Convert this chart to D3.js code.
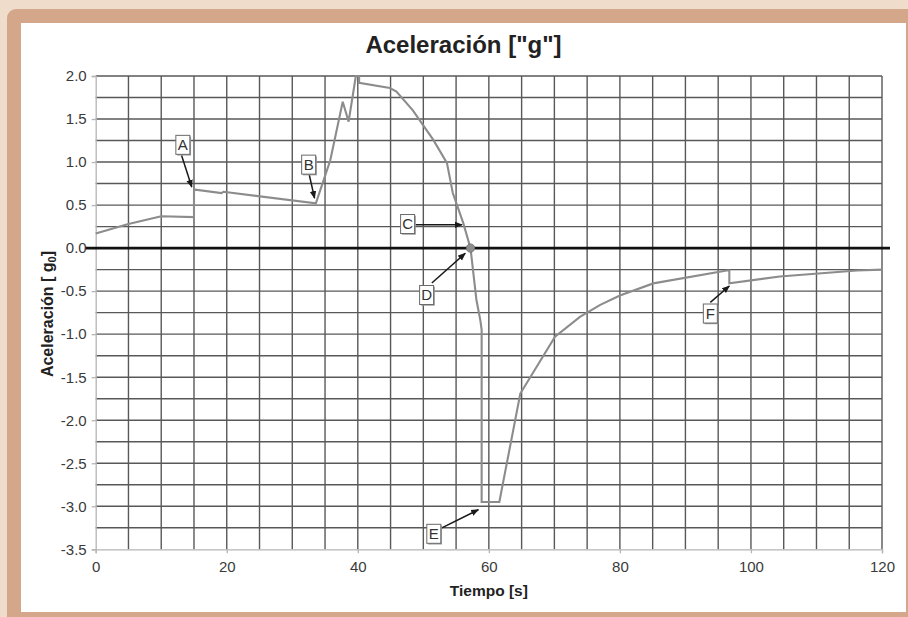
<!DOCTYPE html>
<html>
<head>
<meta charset="utf-8">
<script src="https://cdn.jsdelivr.net/npm/d3@7"></script>
<style>
  html, body { margin: 0; padding: 0; background: #efdccb; }
  svg { display: block; font-family: "Liberation Sans", Arial, Helvetica, sans-serif; }
</style>
</head>
<body>
<svg id="chart" width="908" height="617"></svg>
<script>
// Time axis (s) and acceleration (g0) of the recorded flight profile
const tiempo = [0, 5, 10, 15.0, 15.0, 15.2, 19.2, 19.5, 33.6, 35.8, 37.7, 38.6, 39.7, 40.2, 40.2,
  44.9, 45.9, 48.4, 51.5, 53.6, 54.5, 56.1, 57.2, 58.1, 58.7, 58.9, 58.9, 61.6, 64.8, 70.1,
  73.9, 77.0, 80.0, 85.1, 96.3, 96.7, 96.7, 104.4, 116.2, 120];
const aceleracion = [0.17, 0.28, 0.37, 0.36, 0.67, 0.68, 0.64, 0.655, 0.52, 1.02, 1.70, 1.47, 2.0, 2.0, 1.92,
  1.86, 1.82, 1.60, 1.26, 0.99, 0.64, 0.29, 0.0, -0.60, -0.84, -0.95, -2.95, -2.95, -1.69, -1.03,
  -0.80, -0.66, -0.55, -0.41, -0.26, -0.26, -0.41, -0.33, -0.26, -0.25];

// Axis ticks
const xTicks = [0, 20, 40, 60, 80, 100, 120];
const yTicks = [2.0, 1.5, 1.0, 0.5, 0.0, -0.5, -1.0, -1.5, -2.0, -2.5, -3.0, -3.5];

// Event markers: letter, box centre, arrow start, arrow tip (data units)
const etiquetas = ["A", "B", "C", "D", "E", "F"];
const cajaX = [13.3, 32.5, 47.6, 50.5, 51.6, 93.8];
const cajaY = [1.20, 0.97, 0.28, -0.545, -3.32, -0.76];
const flechaX0 = [13.1, 32.6, 48.8, 51.3, 52.6, 93.8];
const flechaY0 = [1.08, 0.85, 0.27, -0.405, -3.26, -0.63];
const flechaX1 = [14.66, 33.4, 55.9, 56.4, 58.4, 96.7];
const flechaY1 = [0.71, 0.58, 0.27, -0.06, -3.04, -0.44];

// Point where the acceleration crosses zero
const cruceX = [57.2];
const cruceY = [0.0];

const svg = d3.select("#chart");
const W = 908, H = 617;

// Frame
svg.append("rect").attr("x", 0).attr("y", 0).attr("width", W).attr("height", H).attr("fill", "#efdccb");
svg.append("rect").attr("x", 7).attr("y", 9).attr("width", W + 20).attr("height", H + 20)
  .attr("rx", 9).attr("fill", "#d5a78a");
svg.append("rect").attr("x", 21).attr("y", 23).attr("width", 885).attr("height", 589).attr("fill", "#ffffff");

const x = d3.scaleLinear().domain([0, 120]).range([95.7, 882]);
const y = d3.scaleLinear().domain([-3.5, 2]).range([549.3, 76]);

const g = svg.append("g");

// Grid: every 5 s and every 0.25 g
const gridX = d3.range(5, 121, 5);
const gridY = d3.range(-3.25, 2.01, 0.25).filter(v => Math.abs(v) > 1e-9);
g.append("g").selectAll("line").data(gridX).join("line")
  .attr("x1", d => x(d)).attr("x2", d => x(d))
  .attr("y1", y(2)).attr("y2", y(-3.5))
  .attr("stroke", "#585858").attr("stroke-width", 1.4);
g.append("g").selectAll("line").data(gridY).join("line")
  .attr("x1", x(0)).attr("x2", x(120))
  .attr("y1", d => y(d)).attr("y2", d => y(d))
  .attr("stroke", "#585858").attr("stroke-width", 1.4);

// Axes (light lines with short outward ticks); plain hyphen for negatives
const fmtY = d3.format(".1f");
const axisX = d3.axisBottom(x).tickValues(xTicks).tickSize(4).tickPadding(8).tickFormat(d3.format("d"));
const axisY = d3.axisLeft(y).tickValues(yTicks).tickSize(4).tickPadding(4)
  .tickFormat(d => fmtY(d).replace("\u2212", "-"));

const gx = svg.append("g").attr("transform", `translate(0,${y(-3.5)})`).call(axisX);
const gy = svg.append("g").attr("transform", `translate(${x(0)},0)`).call(axisY);
[gx, gy].forEach(a => {
  a.select(".domain").attr("stroke", "#b5b5b5").attr("stroke-width", 1.3);
  a.selectAll(".tick line").attr("stroke", "#b5b5b5").attr("stroke-width", 1.3);
  a.selectAll(".tick text").attr("fill", "#3a3a3a").attr("font-size", "15px")
    .attr("font-family", "\"Liberation Sans\", Arial, sans-serif");
});
gy.selectAll(".tick text").attr("dx", "-1");

// Zero line
svg.append("line")
  .attr("x1", x(0) - 10).attr("x2", x(120) + 8)
  .attr("y1", y(0)).attr("y2", y(0))
  .attr("stroke", "#111").attr("stroke-width", 2.6);

// Acceleration curve
const datos = tiempo.map((t, i) => [t, aceleracion[i]]);
const linea = d3.line().x(d => x(d[0])).y(d => y(d[1]));
svg.append("path").datum(datos)
  .attr("d", linea)
  .attr("fill", "none")
  .attr("stroke", "#8c8c8c")
  .attr("stroke-width", 2.1)
  .attr("stroke-linejoin", "miter");

// Zero-crossing marker
svg.selectAll("circle.cruce").data(cruceX).join("circle")
  .attr("class", "cruce")
  .attr("cx", (d, i) => x(d)).attr("cy", (d, i) => y(cruceY[i]))
  .attr("r", 4.2).attr("fill", "#8e8e8e").attr("stroke", "#6f6f6f").attr("stroke-width", 0.8);

// Arrowhead
const defs = svg.append("defs");
defs.append("marker")
  .attr("id", "punta").attr("viewBox", "0 0 10 10")
  .attr("refX", 9).attr("refY", 5)
  .attr("markerWidth", 8).attr("markerHeight", 8)
  .attr("markerUnits", "userSpaceOnUse")
  .attr("orient", "auto")
  .append("path").attr("d", "M0,1 L10,5 L0,9 Z").attr("fill", "#1a1a1a");

// Event annotations
const notas = svg.append("g");
etiquetas.forEach((l, i) => {
  notas.append("line")
    .attr("x1", x(flechaX0[i])).attr("y1", y(flechaY0[i]))
    .attr("x2", x(flechaX1[i])).attr("y2", y(flechaY1[i]))
    .attr("stroke", "#1a1a1a").attr("stroke-width", 1.5)
    .attr("marker-end", "url(#punta)");
  const cx = x(cajaX[i]), cy = y(cajaY[i]);
  notas.append("rect")
    .attr("x", cx - 7 + 1.2).attr("y", cy - 9.5 + 1.2).attr("width", 14).attr("height", 19)
    .attr("fill", "#9a9a9a");
  notas.append("rect")
    .attr("x", cx - 7).attr("y", cy - 9.5).attr("width", 14).attr("height", 19)
    .attr("fill", "#ffffff").attr("stroke", "#6a6a6a").attr("stroke-width", 1);
  notas.append("text")
    .attr("x", cx).attr("y", cy + 5.3)
    .attr("text-anchor", "middle")
    .attr("font-size", "15px").attr("fill", "#333")
    .text(l);
});

// Titles
svg.append("text")
  .attr("x", 463.5).attr("y", 53)
  .attr("text-anchor", "middle")
  .attr("font-size", "24px").attr("font-weight", "bold").attr("fill", "#222")
  .text("Aceleración [\"g\"]");

svg.append("text")
  .attr("x", x(60)).attr("y", 596)
  .attr("text-anchor", "middle")
  .attr("font-size", "15.5px").attr("font-weight", "bold").attr("fill", "#222")
  .text("Tiempo [s]");

const yl = svg.append("text")
  .attr("transform", `translate(53,314) rotate(-90)`)
  .attr("text-anchor", "middle")
  .attr("font-size", "16px").attr("font-weight", "bold").attr("fill", "#222");
yl.append("tspan").text("Aceleración [  g");
yl.append("tspan").attr("font-size", "11px").attr("dy", "3").text("0");
yl.append("tspan").attr("dy", "-3").text("]");
</script>
</body>
</html>
